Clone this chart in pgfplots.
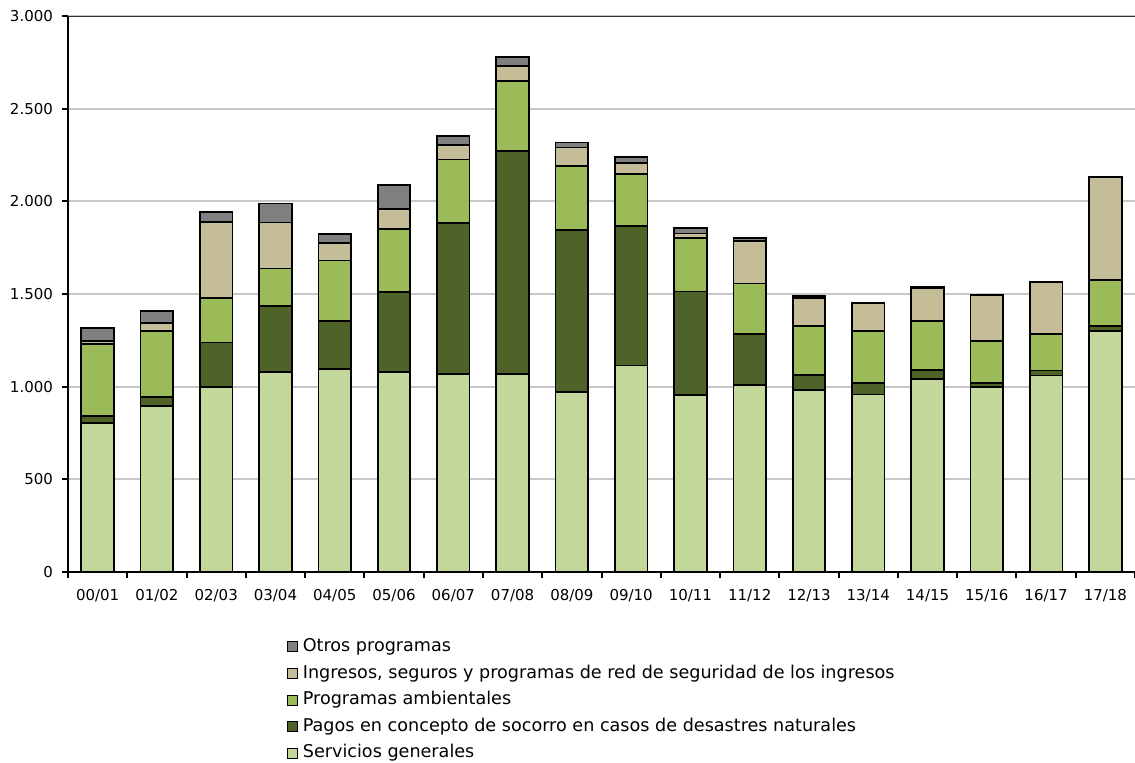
\documentclass[border=0pt]{standalone}
\usepackage{pgfplots}
\pgfplotsset{compat=1.18}
\usepackage{pgfplotstable}
\usepackage{fontspec}
\setmainfont{DejaVu Sans}

\definecolor{servgen}{HTML}{C4D79B}
\definecolor{socorro}{HTML}{4F6228}
\definecolor{ambient}{HTML}{9BBB59}
\definecolor{ingresos}{HTML}{C4BD97}
\definecolor{otros}{HTML}{808080}

% Gasto por campaña (00/01 ... 17/18), apilado por programa
\pgfplotstableread{
x  serv  soc   env  ing  otr
0   805    37  388   15   73
1   894    52  354   43   64
2  1000   239  238  413   54
3  1081   353  203  248  104
4  1097   257  326   95   47
5  1081   431  337  111  128
6  1068   815  342   79   49
7  1068  1204  377   81   47
8   973   874  345   98   27
9  1115   752  280   60   32
10  955   558  289   25   31
11 1009   277  270  230   18
12  982    81  266  151    8
13  957    63  280  151    0
14 1041    49  263  178    9
15 1000    18  228  249    0
16 1061    27  196  281    0
17 1299    28  247  557    0
}\datos

\begin{document}
\begin{tikzpicture}
\useasboundingbox (0,0) rectangle (567.5pt,381pt);
\begin{axis}[
  at={(34pt,95pt)}, anchor=south west,
  scale only axis, width=533.5pt, height=278pt,
  ybar stacked, bar width=0.55,
  xmin=-0.5, xmax=17.5, ymin=0, ymax=3000,
  axis x line*=bottom, axis y line*=left,
  axis line style={line width=1pt, -},
  ytick={0,500,...,3000},
  ymajorgrids, grid style={line width=1pt, color=black!22},
  xtick={0,...,17},
  xticklabels={00/01,01/02,02/03,03/04,04/05,05/06,06/07,07/08,08/09,09/10,10/11,11/12,12/13,13/14,14/15,15/16,16/17,17/18},
  minor xtick={-0.5,0.5,...,17.5},
  major x tick style={draw=none},
  minor x tick style={black, line width=1pt},
  y tick style={black, line width=1pt},
  tick align=outside,
  major tick length=3pt, minor tick length=3pt,
  /pgf/number format/1000 sep={.},
  /pgf/number format/assume math mode=true,
  ticklabel style={font=\fontsize{7.5}{9}\selectfont},
  yticklabel style={xshift=-1pt},
  xticklabel style={yshift=-2pt},
  every axis plot/.append style={draw=black, line width=0.85pt},
  legend image code/.code={\draw[#1, line width=0.5pt] (0pt,-2.5pt) rectangle (5pt,2.5pt);},
  reverse legend,
  legend cell align=left,
  legend style={at={(0.2053,-0.115)}, anchor=north west, draw=none, fill=none,
    font=\fontsize{8.8}{10}\selectfont, inner sep=0pt, row sep=2.7pt, column sep=1.2pt,
    nodes={inner sep=1pt, text height=6.6pt, text depth=2pt}},
]
\addplot[fill=servgen] table[x=x, y=serv] {\datos};
\addplot[fill=socorro] table[x=x, y=soc] {\datos};
\addplot[fill=ambient] table[x=x, y=env] {\datos};
\addplot[fill=ingresos] table[x=x, y=ing] {\datos};
\addplot[fill=otros] table[x=x, y=otr] {\datos};
\legend{Servicios generales,
  Pagos en concepto de socorro en casos de desastres naturales,
  Programas ambientales,
  {Ingresos, seguros y programas de red de seguridad de los ingresos},
  Otros programas}
\draw[black!80, line width=1.1pt] (rel axis cs:0,1) -- (rel axis cs:1,1);
\end{axis}
\end{tikzpicture}
\end{document}
